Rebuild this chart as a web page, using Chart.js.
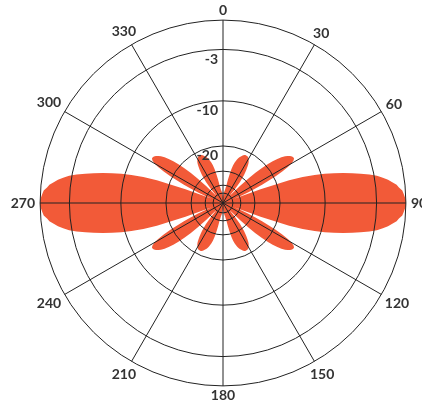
<!DOCTYPE html>
<html>
<head>
<meta charset="utf-8">
<style>
  html, body { margin: 0; padding: 0; background: #fff; overflow: hidden; }
  #wrap { width: 438px; height: 408px; }
</style>
</head>
<body>
<div id="wrap"><canvas id="pattern" width="438" height="408"></canvas></div>
<script src="https://cdn.jsdelivr.net/npm/chart.js@4/dist/chart.umd.min.js"></script>
<script>
// rings of the log (ARRL style) radial scale, in dB
const ringValues = [-50, -40, -30, -20, -10, -3, 0];
const ringLabels = [-20, -10, -3];
const angleLabelStep = 30;

// gain in dB read off one quadrant, 0..90 degrees in 1 degree steps
// (pattern is symmetric about both axes)
const quarterGain = [
  -62, -58.6, -56, -53.7, -51.7, -49.9, -48.3, -46.8, -45.4, -44.1,
  -41.8, -38.9, -34.9, -31, -28.4, -26.5, -25.3, -24.5, -23.7, -23.1,
  -22.6, -22.3, -21.9, -21.6, -21.4, -21.3, -21.3, -21.3, -21.4, -21.6,
  -21.9, -22.3, -22.8, -23.5, -24.5, -25.7, -27, -28.4, -30.5, -32.8,
  -36.3, -40.8, -46.8, -49.9, -42.9, -34.9, -28.4, -24.5, -21.6, -19.4,
  -17.8, -16.5, -15.5, -14.7, -14.2, -13.8, -13.5, -13.4, -13.4, -13.7,
  -14.4, -15.5, -17.2, -19.4, -21.9, -24.8, -28.4, -32.8, -38.9, -46.8,
  -26.1, -16.5, -13.4, -11.1, -9.4, -8, -6.7, -5.5, -4.5, -3.5,
  -2.7, -2.1, -1.6, -1.2, -0.8, -0.6, -0.3, -0.2, -0.1, 0,
  0
];

const angles = Array.from({ length: 360 }, (_, i) => i);

const fold = (a) => {
  if (a <= 90) return a;
  if (a <= 180) return 180 - a;
  if (a <= 270) return a - 180;
  return 360 - a;
};
const gain = angles.map((a) => quarterGain[fold(a)]);

const labelFont = 'bold 14px Lato';

class ArrlScale extends Chart.RadialLinearScale {
  static id = 'arrl';

  // 0 dB at the rim, every 2 dB shrinks the radius by 0.89
  getDistanceFromCenterForValue(value) {
    if (value === null || isNaN(value)) return NaN;
    if (value <= this.min) return 0;
    return this.drawingArea * Math.pow(0.89, -value / 2);
  }

  // centre the angle labels on their spokes, just clear of the rim
  fit() {
    super.fit();
    const ctx = this.ctx;
    ctx.save();
    ctx.font = labelFont;
    (this._pointLabelItems || []).forEach((item, i) => {
      const text = this._pointLabels[i];
      if (!text) return;
      const a = this.getIndexAngle(i);
      const w = ctx.measureText(text).width;
      const d = this.drawingArea + 5 + (w / 2) * Math.abs(Math.sin(a)) + 5 * Math.abs(Math.cos(a));
      item.textAlign = 'center';
      item.x = this.xCenter + d * Math.sin(a);
      item.y = this.yCenter - d * Math.cos(a) - 8.4;
    });
    ctx.restore();
  }

  drawLabels() {
    const ctx = this.ctx;
    ctx.save();
    ctx.font = labelFont;
    ctx.fillStyle = '#333';
    ctx.textAlign = 'right';
    ctx.textBaseline = 'middle';
    this.ticks.forEach((tick) => {
      if (!ringLabels.includes(tick.value)) return;
      const r = this.getDistanceFromCenterForValue(tick.value);
      ctx.fillText(String(tick.value), this.xCenter - 5, this.yCenter - r + 10);
    });
    ctx.restore();
  }
}
Chart.register(ArrlScale);

new Chart(document.getElementById('pattern').getContext('2d'), {
  type: 'radar',
  data: {
    labels: angles,
    datasets: [
      {
        label: 'Gain',
        data: gain,
        backgroundColor: '#F25A38',
        borderWidth: 0,
        pointRadius: 0,
        pointHitRadius: 0,
        fill: 'start'
      }
    ]
  },
  options: {
    responsive: false,
    animation: false,
    layout: { padding: { top: 3, bottom: 3 } },
    plugins: {
      legend: { display: false },
      tooltip: { enabled: false }
    },
    scales: {
      r: {
        type: 'arrl',
        min: -70,
        max: 0,
        afterBuildTicks: (axis) => {
          axis.ticks = ringValues.map((v) => ({ value: v }));
        },
        ticks: { display: false, z: 2 },
        grid: { circular: true, color: '#222', lineWidth: 1, z: 1 },
        angleLines: {
          color: '#222',
          lineWidth: (ctx) => (ctx.index % angleLabelStep === 0 ? 1 : 0)
        },
        pointLabels: {
          padding: (ctx) => Math.round(1 + 6 * Math.abs(Math.sin((ctx.index * Math.PI) / 180))),
          color: '#333',
          font: { family: 'Lato', size: 14, weight: 'bold' },
          callback: (label) => (label % angleLabelStep === 0 ? String(label) : '')
        }
      }
    }
  }
});
</script>
</body>
</html>
